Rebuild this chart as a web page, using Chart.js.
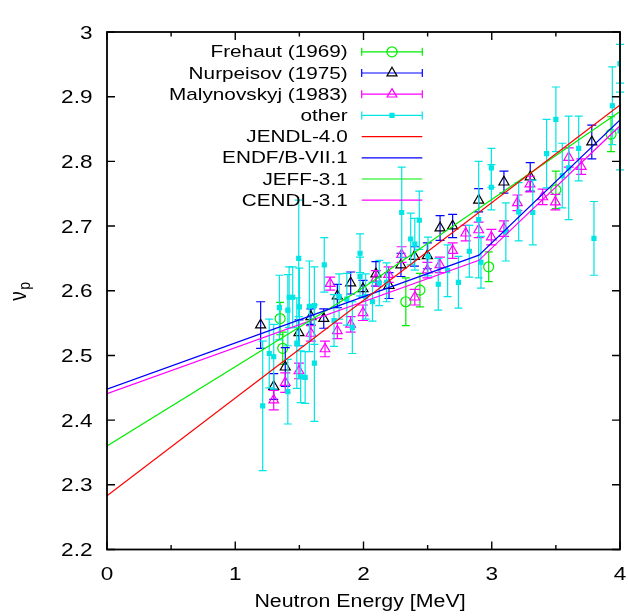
<!DOCTYPE html>
<html>
<head>
<meta charset="utf-8">
<script src="https://cdn.jsdelivr.net/npm/chart.js@4.4.1/dist/chart.umd.min.js"></script>
<style>
  html, body { margin: 0; padding: 0; background: #fff; }
  #wrap { width: 628px; height: 616px; }
</style>
</head>
<body>
<div id="wrap"><canvas id="nuChart" width="628" height="616"></canvas></div>
<script>
// prompt neutron multiplicity nu_p vs incident neutron energy

// axis ticks
const xTicks = [0, 1, 2, 3, 4];
const xMinorTicks = [0.5, 1.5, 2.5, 3.5];
const yTicks = [2.2, 2.3, 2.4, 2.5, 2.6, 2.7, 2.8, 2.9, 3];

// Frehaut (1969)
const frehautE   = [1.35, 1.37, 2.33, 2.44, 2.976, 3.50, 3.93];
const frehautNu  = [2.557, 2.511, 2.583, 2.601, 2.637, 2.756, 2.842];
const frehautErr = [0.025, 0.025, 0.037, 0.026, 0.023, 0.029, 0.027];

// Nurpeisov (1975)
const nurpE   = [1.198, 1.30, 1.39, 1.497, 1.59, 1.69, 1.796, 1.90, 1.996, 2.097, 2.199, 2.292, 2.397, 2.498, 2.597, 2.695, 2.898, 3.095, 3.30, 3.78];
const nurpNu  = [2.547, 2.452, 2.482, 2.535, 2.560, 2.557, 2.592, 2.612, 2.603, 2.626, 2.608, 2.640, 2.653, 2.654, 2.697, 2.700, 2.740, 2.768, 2.776, 2.830];
const nurpErr = [0.036, 0.02, 0.03, 0.02, 0.012, 0.015, 0.018, 0.017, 0.013, 0.019, 0.02, 0.018, 0.015, 0.02, 0.019, 0.018, 0.018, 0.017, 0.022, 0.026];

// Malynovskyj (1983)
const malE   = [1.30, 1.39, 1.497, 1.59, 1.70, 1.74, 1.796, 1.90, 1.996, 2.097, 2.196, 2.297, 2.40, 2.498, 2.596, 2.695, 2.797, 2.898, 2.997, 3.095, 3.20, 3.298, 3.397, 3.496, 3.60, 3.698];
const malNu  = [2.431, 2.458, 2.476, 2.534, 2.510, 2.611, 2.538, 2.548, 2.566, 2.619, 2.625, 2.656, 2.590, 2.632, 2.640, 2.662, 2.689, 2.694, 2.683, 2.696, 2.736, 2.765, 2.745, 2.737, 2.806, 2.792];
const malErr = [0.015, 0.015, 0.012, 0.012, 0.012, 0.010, 0.012, 0.012, 0.012, 0.012, 0.012, 0.012, 0.012, 0.012, 0.012, 0.012, 0.012, 0.012, 0.012, 0.012, 0.012, 0.012, 0.012, 0.012, 0.015, 0.012];

// other measurements
const otherE   = [1.214, 1.265, 1.30, 1.344, 1.41, 1.42, 1.448, 1.41, 1.495, 1.50, 1.48, 1.51, 1.545, 1.578, 1.617, 1.617, 1.694, 1.77, 1.81, 1.87, 1.913, 1.973, 1.973, 2.017, 2.07, 2.123, 2.18, 2.298, 2.368, 2.40, 2.435, 2.503, 2.583, 2.656, 2.74, 2.825, 2.898, 2.916, 2.997, 2.997, 3.11, 3.21, 3.32, 3.428, 3.50, 3.55, 3.60, 3.678, 3.797, 3.94, 4.0, 4.0];
const otherNu  = [2.422, 2.503, 2.498, 2.574, 2.570, 2.590, 2.590, 2.444, 2.650, 2.575, 2.519, 2.467, 2.466, 2.576, 2.577, 2.488, 2.640, 2.554, 2.591, 2.587, 2.543, 2.658, 2.622, 2.591, 2.583, 2.612, 2.613, 2.721, 2.680, 2.672, 2.709, 2.653, 2.610, 2.631, 2.613, 2.661, 2.710, 2.644, 2.790, 2.760, 2.691, 2.722, 2.721, 2.812, 2.865, 2.778, 2.790, 2.820, 2.681, 2.886, 2.951, 2.847];
const otherErr = [0.10, 0.053, 0.05, 0.05, 0.055, 0.047, 0.047, 0.05, 0.09, 0.06, 0.07, 0.04, 0.04, 0.07, 0.06, 0.09, 0.042, 0.04, 0.035, 0.04, 0.04, 0.03, 0.03, 0.035, 0.03, 0.035, 0.03, 0.07, 0.04, 0.04, 0.045, 0.03, 0.04, 0.04, 0.04, 0.04, 0.09, 0.04, 0.03, 0.035, 0.045, 0.045, 0.05, 0.053, 0.05, 0.05, 0.08, 0.05, 0.057, 0.06, 0.03, 0.06];

// evaluated libraries
const jendlE  = [0, 4];
const jendlNu = [2.283, 2.887];
const endfE   = [0, 2.9, 4];
const endfNu  = [2.448, 2.655, 2.864];
const jeffE   = [0, 2, 4];
const jeffNu  = [2.360, 2.605, 2.877];
const cendlE  = [0, 2.9, 4];
const cendlNu = [2.441, 2.647, 2.855];

const RED = '#ff0000', GREEN = '#00ee00', BLUE = '#0000ff', MAGENTA = '#ff00ff', CYAN = '#00e5e5';
const FONT = '"Liberation Sans", Arial, sans-serif';
const SX = 1.22; // horizontal text stretch

const pts = (xs, ys) => xs.map((x, i) => ({ x: x, y: ys[i] }));

function markerSet(label, xs, ys, errs, opts) {
  return Object.assign({
    label: label,
    data: pts(xs, ys),
    errors: errs,
    backgroundColor: 'rgba(0,0,0,0)',
    borderWidth: 1.2,
    showLine: false
  }, opts);
}

function lineSet(label, xs, ys, color) {
  return {
    label: label,
    data: pts(xs, ys),
    borderColor: color,
    borderWidth: 1.2,
    pointRadius: 0,
    showLine: true,
    fill: false,
    tension: 0,
    order: 0
  };
}

const datasets = [
  markerSet('Frehaut (1969)', frehautE, frehautNu, frehautErr,
    { pointStyle: 'circle', pointRadius: 5, borderColor: GREEN, barColor: GREEN, capHalf: 4, order: 4 }),
  markerSet('Nurpeisov (1975)', nurpE, nurpNu, nurpErr,
    { pointStyle: 'triangle', pointRadius: 5.8, borderColor: '#000000', barColor: BLUE, capHalf: 4.5, order: 3 }),
  markerSet('Malynovskyj (1983)', malE, malNu, malErr,
    { pointStyle: 'triangle', pointRadius: 5.6, borderColor: MAGENTA, barColor: MAGENTA, capHalf: 5, order: 2 }),
  markerSet('other', otherE, otherNu, otherErr,
    { pointStyle: 'rect', pointRadius: 2.8, borderColor: CYAN, backgroundColor: CYAN, barColor: CYAN, capHalf: 4, order: 1 }),
  lineSet('JENDL-4.0', jendlE, jendlNu, RED),
  lineSet('ENDF/B-VII.1', endfE, endfNu, BLUE),
  lineSet('JEFF-3.1', jeffE, jeffNu, GREEN),
  lineSet('CENDL-3.1', cendlE, cendlNu, MAGENTA)
];

// stretched text helper
function drawText(ctx, text, x, y, align, size) {
  ctx.font = size + 'px ' + FONT;
  const w = ctx.measureText(text).width * SX;
  const x0 = align === 'right' ? x - w : (align === 'center' ? x - w / 2 : x);
  ctx.save();
  ctx.translate(x0, y);
  ctx.scale(SX, 1);
  ctx.textAlign = 'left';
  ctx.fillText(text, 0, 0);
  ctx.restore();
}

// vertical error bars, drawn just under each marker set
const errorBars = {
  id: 'errorBars',
  beforeDatasetDraw(chart, args) {
    const ds = chart.data.datasets[args.index];
    if (!ds.errors) return;
    const ctx = chart.ctx, xs = chart.scales.x, ys = chart.scales.y;
    ctx.save();
    ctx.strokeStyle = ds.barColor;
    ctx.lineWidth = 1.2;
    ds.data.forEach((p, i) => {
      const px = xs.getPixelForValue(p.x);
      const top = ys.getPixelForValue(p.y + ds.errors[i]);
      const bot = ys.getPixelForValue(p.y - ds.errors[i]);
      ctx.beginPath();
      ctx.moveTo(px, top); ctx.lineTo(px, bot);
      ctx.moveTo(px - ds.capHalf, top); ctx.lineTo(px + ds.capHalf, top);
      ctx.moveTo(px - ds.capHalf, bot); ctx.lineTo(px + ds.capHalf, bot);
      ctx.stroke();
    });
    ctx.restore();
  }
};

// border, inward ticks, labels and key
const frame = {
  id: 'frame',
  afterDraw(chart) {
    const ctx = chart.ctx, a = chart.chartArea;
    const xs = chart.scales.x, ys = chart.scales.y;
    ctx.save();
    ctx.strokeStyle = '#000';
    ctx.fillStyle = '#000';

    ctx.lineWidth = 1.4;
    ctx.beginPath();
    xTicks.forEach(v => {
      const px = xs.getPixelForValue(v);
      ctx.moveTo(px, a.bottom); ctx.lineTo(px, a.bottom - 8);
      ctx.moveTo(px, a.top); ctx.lineTo(px, a.top + 8);
    });
    xMinorTicks.forEach(v => {
      const px = xs.getPixelForValue(v);
      ctx.moveTo(px, a.bottom); ctx.lineTo(px, a.bottom - 4.5);
      ctx.moveTo(px, a.top); ctx.lineTo(px, a.top + 4.5);
    });
    yTicks.forEach(v => {
      const py = ys.getPixelForValue(v);
      ctx.moveTo(a.left, py); ctx.lineTo(a.left + 8, py);
      ctx.moveTo(a.right, py); ctx.lineTo(a.right - 8, py);
    });
    ctx.stroke();

    ctx.lineWidth = 1.8;
    ctx.strokeRect(a.left, a.top, a.right - a.left, a.bottom - a.top);

    ctx.textBaseline = 'alphabetic';
    xTicks.forEach(v => drawText(ctx, String(v), xs.getPixelForValue(v), 579.5, 'center', 18.5));
    yTicks.forEach(v => drawText(ctx, String(Number(v.toFixed(1))), 92.5, ys.getPixelForValue(v) + 6.5, 'right', 18.5));

    drawText(ctx, 'Neutron Energy [MeV]', 360, 607, 'center', 17.5);

    // y title: nu with subscript p
    ctx.save();
    ctx.translate(26, 300.7);
    ctx.rotate(-Math.PI / 2);
    ctx.scale(1, SX);
    ctx.font = '19px ' + FONT;
    ctx.fillText('\u03bd', 0, 0);
    const nw = ctx.measureText('\u03bd').width;
    ctx.font = '14px ' + FONT;
    ctx.fillText('p', nw + 1.5, 3.6);
    ctx.restore();

    // key
    const x0 = 361.7, x1 = 422.3, xm = 392;
    chart.data.datasets.forEach((ds, i) => {
      const ry = 51.8 + i * 21.2;
      ctx.fillStyle = '#000';
      ctx.textBaseline = 'middle';
      drawText(ctx, ds.label, 347.7, ry + 1, 'right', 17);
      ctx.lineWidth = 1.2;
      if (ds.errors) {
        ctx.strokeStyle = ds.barColor;
        ctx.beginPath();
        ctx.moveTo(x0, ry); ctx.lineTo(x1, ry);
        ctx.moveTo(x0, ry - 4); ctx.lineTo(x0, ry + 4);
        ctx.moveTo(x1, ry - 4); ctx.lineTo(x1, ry + 4);
        ctx.stroke();
        ctx.strokeStyle = ds.borderColor;
        ctx.fillStyle = ds.backgroundColor;
        Chart.helpers.drawPoint(ctx, {
          pointStyle: ds.pointStyle, radius: ds.pointRadius, rotation: 0, borderWidth: ds.borderWidth
        }, xm, ry);
      } else {
        ctx.strokeStyle = ds.borderColor;
        ctx.beginPath();
        ctx.moveTo(x0, ry); ctx.lineTo(x1, ry);
        ctx.stroke();
      }
    });
    ctx.restore();
  }
};

new Chart(document.getElementById('nuChart'), {
  type: 'scatter',
  data: { datasets: datasets },
  options: {
    responsive: false,
    animation: false,
    events: [],
    layout: { padding: { left: 107, top: 32, right: 8, bottom: 66.5 } },
    plugins: { legend: { display: false }, tooltip: { enabled: false } },
    scales: {
      x: { type: 'linear', min: 0, max: 4, display: false },
      y: { type: 'linear', min: 2.2, max: 3, display: false }
    }
  },
  plugins: [errorBars, frame]
});
</script>
</body>
</html>
